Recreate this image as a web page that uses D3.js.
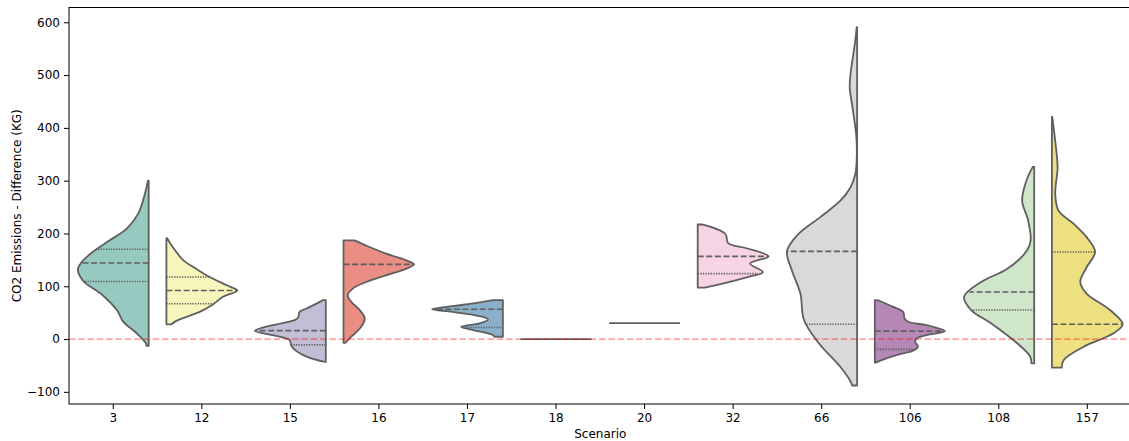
<!DOCTYPE html>
<html>
<head>
<meta charset="utf-8">
<script src="https://cdn.jsdelivr.net/npm/d3@7"></script>
<style>
  body { margin: 0; background: #fff; }
  svg { display: block; }
  text { font-family: "DejaVu Sans", sans-serif; }
</style>
</head>
<body>
<svg id="chart" width="1129" height="441"></svg>
<script>
// Scenarios on the x axis and the side each half-violin opens towards
const scenarios = ["3", "12", "15", "16", "17", "18", "20", "32", "66", "106", "108", "157"];
const sides = ["left", "right", "left", "right", "left", "right", "left", "right", "left", "right", "left", "right"];
const baseColors = ["#8dd3c7", "#ffffb3", "#bebada", "#fb8072", "#80b1d3", "#fdb462",
                    "#b3de69", "#fccde5", "#d9d9d9", "#bc80bd", "#ccebc5", "#ffed6f"];

// Quartiles of the emission difference (kg) per scenario
const medians        = [144, 92, 16, 141.5, 56.6, 0, 30, 156.6, 166, 15, 89, 28];
const lowerQuartiles = [109, 67, -11, 141.5, 22, 0, 30, 124, 28, -19.6, 55, 28];
const upperQuartiles = [170, 117.5, 16, 141.5, 56.6, 0, 30, 156.6, 166, 15, 89, 165];

// Kernel density profiles: [emission difference (kg), relative density 0..1]
const density3 = [[300, 0.01], [272, 0.06], [237, 0.15], [209, 0.31], [187, 0.55], [165, 0.79],
  [145, 0.95], [132, 1.0], [111, 0.93], [83, 0.65], [55, 0.45], [33, 0.36], [11, 0.17], [-8, 0.04], [-13, 0.03]];
const density12 = [[191, 0.01], [174, 0.09], [149, 0.24], [133, 0.42], [117.5, 0.61], [102, 0.85],
  [92, 1.0], [80, 0.8], [64, 0.64], [51.5, 0.47], [34.5, 0.14], [28, 0.07]];
const density15 = [[73.6, 0.05], [70.4, 0.085], [57.9, 0.27], [51.5, 0.37], [40.9, 0.39], [35.8, 0.44],
  [26.4, 0.75], [15.7, 1.0], [7.5, 0.75], [-1.9, 0.51], [-11.3, 0.49], [-17.5, 0.46], [-33.4, 0.27], [-43.4, 0.014]];
const density16 = [[186.8, 0.156], [177, 0.32], [161.7, 0.6], [149, 0.89], [141.5, 0.995], [133.4, 0.89],
  [120.8, 0.6], [108, 0.32], [95.6, 0.13], [83, 0.06], [70.4, 0.11], [54.7, 0.23], [39, 0.3], [23.2, 0.25],
  [4.4, 0.11], [-7, 0.03]];
const density17 = [[73.6, 0.14], [67.4, 0.42], [62.3, 0.71], [56.6, 1.0], [51.5, 0.71], [43.4, 0.33],
  [37.1, 0.21], [29.6, 0.33], [23.2, 0.59], [17, 0.42], [7.5, 0.14], [4.4, 0.12]];
const density18 = [];
const density20 = [];
const density32 = [[217, 0.06], [199, 0.39], [181.7, 0.43], [172, 0.69], [156.6, 1.0], [143, 0.74],
  [127, 0.92], [117, 0.69], [97.5, 0.1]];
const density66 = [[591, 0.005], [558, 0.033], [501, 0.094], [476, 0.104], [432, 0.057], [382, 0.01],
  [344, 0.005], [313, 0.024], [287, 0.094], [262, 0.236], [231, 0.52], [196, 0.85], [166, 0.99],
  [130, 0.92], [86, 0.8], [36, 0.75], [-8, 0.54], [-52, 0.24], [-80, 0.094], [-88, 0.07]];
const density106 = [[73.6, 0.047], [61, 0.26], [51.5, 0.4], [39, 0.42], [32.7, 0.47], [26.4, 0.73],
  [15.1, 0.99], [7.5, 0.73], [1.3, 0.59], [-5, 0.57], [-14.5, 0.61], [-22, 0.54], [-27, 0.4],
  [-36.5, 0.165], [-44.6, 0.01]];
const density108 = [[326, 0.02], [300, 0.11], [262, 0.17], [224.5, 0.085], [187, 0.05], [168, 0.1],
  [133, 0.38], [108, 0.75], [80, 0.99], [55, 0.89], [30, 0.61], [-8, 0.24], [-33, 0.057], [-46, 0.04]];
const density157 = [[421, 0.005], [375, 0.047], [325, 0.08], [275, 0.047], [243, 0.094], [218, 0.31],
  [193, 0.49], [165, 0.61], [136, 0.49], [108, 0.4], [86, 0.49], [55, 0.82], [28, 1.0], [11, 0.87],
  [-14.5, 0.45], [-40, 0.165], [-54, 0.14]];

const yTicks = [-100, 0, 100, 200, 300, 400, 500, 600];
const referenceLine = 0;

const profiles = [density3, density12, density15, density16, density17, density18,
                  density20, density32, density66, density106, density108, density157];

const svg = d3.select("#chart");
const margin = { left: 69, right: 1131.6, top: 7.5, bottom: 404 };

const x = d3.scaleBand().domain(scenarios).range([margin.left, margin.right]).padding(0);
const step = x.step();
const y = d3.scaleLinear().domain([-123, 628]).range([margin.bottom, margin.top]);
const halfWidth = 0.8 * step;   // widest point of every half-violin
const edgeColor = "#5f5f5f";

function fillColor(c) {
  const h = d3.hsl(c);
  h.s *= 0.75;
  return h.formatHex();
}

// width of a profile at a given value (linear between profile samples)
function widthAt(profile, v) {
  for (let i = 0; i < profile.length - 1; i++) {
    const a = profile[i], b = profile[i + 1];
    if (v <= a[0] && v >= b[0]) {
      const t = (a[0] - v) / (a[0] - b[0]);
      return a[1] + t * (b[1] - a[1]);
    }
  }
  return 0;
}

const plot = svg.append("g");

scenarios.forEach((s, i) => {
  const center = x(s) + step / 2;
  const dir = sides[i] === "left" ? -1 : 1;
  const edge = center - dir * 0.4 * step;
  const profile = profiles[i];
  const g = plot.append("g");

  if (profile.length === 0) {
    // single repeated value: a flat line across the half width
    g.append("line")
      .attr("x1", edge).attr("x2", edge + dir * halfWidth)
      .attr("y1", y(medians[i])).attr("y2", y(medians[i]))
      .attr("stroke", edgeColor).attr("stroke-width", 1.8);
    return;
  }

  // the open side follows the density, the other side is the straight split edge
  const outline = d3.line()
    .y(d => y(d[0]))
    .x(d => edge + dir * d[1] * halfWidth)
    .curve(d3.curveCatmullRom.alpha(0.5));
  const curvePath = outline(profile);
  const top = profile[0], bottom = profile[profile.length - 1];
  const d = `M${edge},${y(top[0])}` + "L" + curvePath.slice(1) +
            `L${edge},${y(bottom[0])}Z`;

  g.append("path")
    .attr("d", d)
    .attr("fill", fillColor(baseColors[i]))
    .attr("stroke", edgeColor)
    .attr("stroke-width", 1.8)
    .attr("stroke-linejoin", "round");

  const quartileLine = (v, dash) => {
    const w = widthAt(profile, v);
    g.append("line")
      .attr("x1", edge).attr("x2", edge + dir * w * halfWidth)
      .attr("y1", y(v)).attr("y2", y(v))
      .attr("stroke", edgeColor).attr("stroke-width", 1.6)
      .attr("stroke-dasharray", dash);
  };
  if (lowerQuartiles[i] !== medians[i]) quartileLine(lowerQuartiles[i], "1.3,1.3");
  if (upperQuartiles[i] !== medians[i]) quartileLine(upperQuartiles[i], "1.3,1.3");
  quartileLine(medians[i], "6,2.6");
});

// zero-difference reference line
svg.append("line")
  .attr("x1", margin.left).attr("x2", margin.right)
  .attr("y1", y(referenceLine)).attr("y2", y(referenceLine))
  .attr("stroke", "rgba(255,0,0,0.36)")
  .attr("stroke-width", 1.8)
  .attr("stroke-dasharray", "6.5,2.8");

// axes
const yAxis = svg.append("g")
  .attr("transform", `translate(${margin.left},0)`)
  .call(d3.axisLeft(y).tickValues(yTicks).tickSize(5).tickPadding(4)
    .tickFormat(d => d < 0 ? "\u2212" + Math.abs(d) : d));
const xAxis = svg.append("g")
  .attr("transform", `translate(0,${margin.bottom})`)
  .call(d3.axisBottom(x).tickSize(5).tickPadding(4));

[yAxis, xAxis].forEach(a => {
  a.select(".domain").remove();
  a.selectAll(".tick line").attr("stroke", "#000").attr("stroke-width", 1);
  a.selectAll(".tick text").attr("fill", "#000").style("font-size", "12px")
    .style("font-family", "'DejaVu Sans', sans-serif");
});

// frame
svg.append("rect")
  .attr("x", margin.left).attr("y", margin.top)
  .attr("width", margin.right - margin.left).attr("height", margin.bottom - margin.top)
  .attr("fill", "none").attr("stroke", "#000").attr("stroke-width", 1);

svg.append("text")
  .attr("x", (margin.left + margin.right) / 2).attr("y", 438)
  .attr("text-anchor", "middle").style("font-size", "12px")
  .text("Scenario");

svg.append("text")
  .attr("transform", `translate(21,${(margin.top + margin.bottom) / 2}) rotate(-90)`)
  .attr("text-anchor", "middle").style("font-size", "12px")
  .text("CO2 Emissions - Difference (KG)");
</script>
</body>
</html>
